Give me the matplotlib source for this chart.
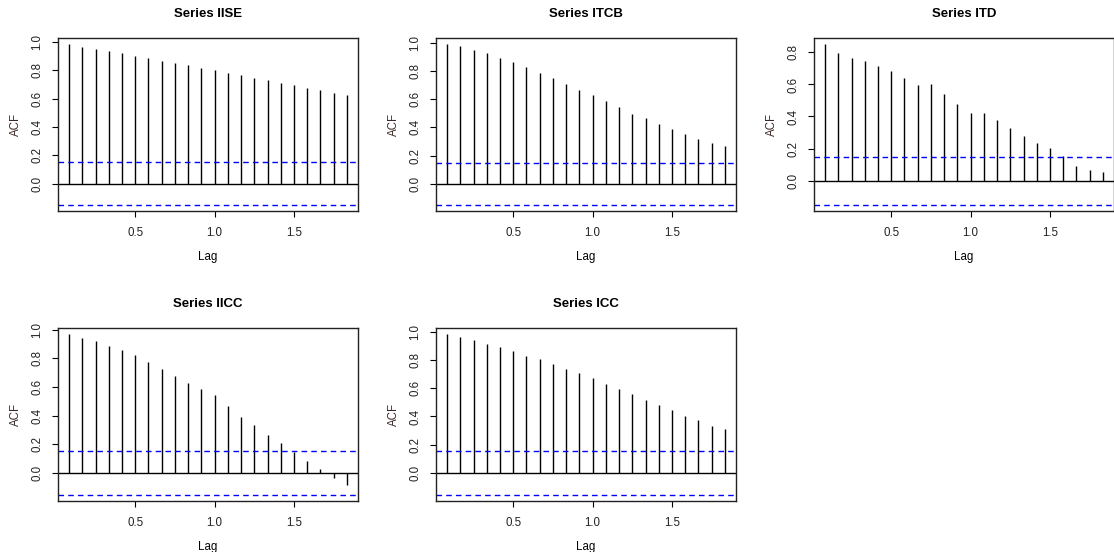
import numpy as np
import matplotlib
matplotlib.use("Agg")
import matplotlib.pyplot as plt

plt.rcParams['font.family'] = ['Liberation Sans', 'DejaVu Sans']

# lags in years (monthly series, lags 1..22)
lags = np.arange(1, 23) / 12.0

titles = ["Series IISE", "Series ITCB", "Series ITD", "Series IICC", "Series ICC"]

acf_iise = [0.984, 0.969, 0.948, 0.934, 0.920, 0.899, 0.885, 0.864, 0.849, 0.835, 0.814,
            0.800, 0.779, 0.765, 0.744, 0.729, 0.708, 0.694, 0.673, 0.659, 0.638, 0.624]
acf_itcb = [0.990, 0.976, 0.948, 0.929, 0.891, 0.863, 0.827, 0.784, 0.749, 0.706, 0.668,
            0.628, 0.585, 0.543, 0.498, 0.464, 0.427, 0.391, 0.353, 0.320, 0.289, 0.270]
acf_itd = [0.850, 0.798, 0.767, 0.748, 0.717, 0.686, 0.642, 0.599, 0.605, 0.541, 0.479,
           0.423, 0.423, 0.381, 0.330, 0.280, 0.234, 0.203, 0.155, 0.091, 0.066, 0.054]
acf_iicc = [0.968, 0.942, 0.919, 0.884, 0.856, 0.821, 0.773, 0.724, 0.675, 0.626, 0.585,
            0.543, 0.464, 0.394, 0.332, 0.262, 0.206, 0.148, 0.081, 0.028, -0.037, -0.086]
acf_icc = [0.981, 0.960, 0.939, 0.911, 0.889, 0.861, 0.826, 0.805, 0.769, 0.734, 0.706,
           0.671, 0.628, 0.593, 0.558, 0.515, 0.480, 0.445, 0.400, 0.374, 0.336, 0.308]

series = [acf_iise, acf_itcb, acf_itd, acf_iicc, acf_icc]
ci = [0.149, 0.149, 0.150, 0.152, 0.153]

W, H = 1114, 552
fig = plt.figure(figsize=(W / 100, H / 100), dpi=100)

# axes boxes in pixels: left, top
boxes = [(58, 38), (436, 38), (814, 38), (58, 328), (436, 328)]
bw, bh = 300, 173

for (px, py), ttl, vals, c in zip(boxes, titles, series, ci):
    ax = fig.add_axes([px / W, 1 - (py + bh) / H, bw / W, bh / H])
    vals = np.array(vals)
    ax.vlines(lags, 0, vals, color="black", lw=1.0)
    ax.axhline(0, color="black", lw=1.0)
    ax.axhline(c, color="blue", lw=1.0, ls=(0, (4, 3)))
    ax.axhline(-c, color="blue", lw=1.0, ls=(0, (4, 3)))

    xr = lags.max() - lags.min()
    ax.set_xlim(lags.min() - 0.04 * xr, lags.max() + 0.04 * xr)
    lo = min(vals.min(), -c)
    hi = max(vals.max(), c)
    yr = hi - lo
    ax.set_ylim(lo - 0.04 * yr, hi + 0.04 * yr)

    ax.set_xticks([0.5, 1.0, 1.5])
    ax.set_xticklabels(["0.5", "1.0", "1.5"])
    yt = [t for t in [0.0, 0.2, 0.4, 0.6, 0.8, 1.0] if t <= hi + 0.04 * yr]
    ax.set_yticks(yt)
    ax.set_yticklabels(["%.1f" % t for t in yt], rotation=90, va="center")
    ax.tick_params(direction="out", length=4.5, width=0.8, labelsize=8.3,
                   colors="black", labelcolor="#222222")
    ax.tick_params(axis="x", pad=7)
    ax.tick_params(axis="y", pad=6)
    for s in ax.spines.values():
        s.set_linewidth(1.0)
        s.set_color("#222222")

    ax.set_title(ttl, fontsize=9.5, fontweight="bold", pad=15)
    ax.set_xlabel("Lag", fontsize=8.3, labelpad=8.5)
    ax.set_ylabel("ACF", fontsize=8.3, labelpad=7, color="#3a2828")

fig.savefig("out.png", dpi=100)
